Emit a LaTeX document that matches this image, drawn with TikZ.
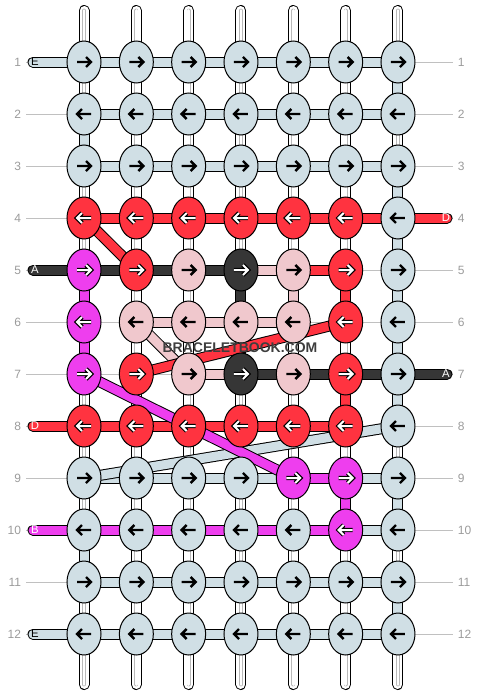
\documentclass[tikz,border=0pt]{standalone}
\usepackage{fontspec}
\setmainfont{Liberation Sans}
\usetikzlibrary{shapes.geometric}

\definecolor{tb}{RGB}{208,223,229}
\definecolor{tr}{RGB}{255,51,64}
\definecolor{tp}{RGB}{240,200,205}
\definecolor{tk}{RGB}{54,54,54}
\definecolor{tm}{RGB}{238,62,238}
\definecolor{guide}{RGB}{192,192,192}
\definecolor{numgray}{RGB}{155,155,155}

\pgfdeclarelayer{back}
\pgfsetlayers{back,main}

\tikzset{
  knot/.style={ellipse, draw, line width=0.75pt, minimum width=25.5pt, minimum height=31.5pt, inner sep=0pt},
  band/.style={draw=black, line width=8.25pt, postaction={draw=#1, line width=6.75pt}},
  warp/.style={band=white, postaction={draw=gray!55, line width=0.4pt, double=white, double distance=2pt}},
  tickdark/.style={draw=black, line width=1.8pt},
  ticklight/.style={draw=white, line width=1.5pt, preaction={draw=black, line width=3.3pt}},
  ab/.style={tickdark}, ap/.style={tickdark},
  ar/.style={ticklight}, ak/.style={ticklight}, am/.style={ticklight},
  rownum/.style={text=numgray, font=\fontsize{9}{10}\selectfont, inner xsep=3.5pt, inner ysep=1pt},
  tag/.style={font=\fontsize{8.5}{9}\selectfont, inner sep=0pt},
  guideline/.style={draw=guide, line width=0.75pt},
  stamp/.style={text={rgb,255:red,62;green,62;blue,62}, font=\fontsize{10.5}{12}\selectfont\bfseries, inner sep=1pt}
}

\begin{document}
\begin{tikzpicture}[x=0.75pt, y=-0.75pt]
  \useasboundingbox (0,0) rectangle (480,696);

  % knots, row by row (1 = right, -1 = left)
  \foreach \r/\d/\row in {
      1/1/{b,b,b,b,b,b,b},
      2/-1/{b,b,b,b,b,b,b},
      3/1/{b,b,b,b,b,b,b},
      4/-1/{r,r,r,r,r,r,b},
      5/1/{m,r,p,k,p,r,b},
      6/-1/{m,p,p,p,p,r,b},
      7/1/{m,r,p,k,p,r,b},
      8/-1/{r,r,r,r,r,r,b},
      9/1/{b,b,b,b,m,m,b},
      10/-1/{b,b,b,b,b,m,b},
      11/1/{b,b,b,b,b,b,b},
      12/-1/{b,b,b,b,b,b,b}}
    \foreach \c [count=\i] in \row {
      \node[knot, fill=t\c] (n\r-\i) at ({84+(\i-1)*52.33}, {62+(\r-1)*52}) {};
      \draw[a\c] (n\r-\i.center) ++({-7*\d},0) -- ++({14*\d},0)
        ++({-5*\d},-5) -- ++({5*\d},5) -- ++({-5*\d},5);
    }

  % row numbers
  \foreach \r in {1,...,12} {
    \node[rownum, anchor=east] (ll\r) at (26, {62+(\r-1)*52}) {\r};
    \node[rownum, anchor=west] (rl\r) at (453, {62+(\r-1)*52}) {\r};
  }

  % loose ends
  \foreach \i in {1,...,7} {
    \coordinate (top\i) at ({84+(\i-1)*52.33}, 10.5);
    \coordinate (bot\i) at ({84+(\i-1)*52.33}, 684.5);
  }
  \foreach \r/\t/\f in {1/E/black, 5/A/white, 8/D/white, 10/B/white, 12/E/black} {
    \coordinate (el\r) at (33, {62+(\r-1)*52});
    \node[tag, text=\f] (te\r) at (35, {62+(\r-1)*52}) {\t};
  }
  \foreach \r/\t in {4/D, 7/A} {
    \coordinate (er\r) at (447, {62+(\r-1)*52});
    \node[tag, text=white] (tr\r) at (446, {62+(\r-1)*52}) {\t};
  }

  \node[stamp] (wm) at (240,347.5) {BRACELETBOOK.COM};

  \begin{pgfonlayer}{back}
    \foreach \r in {1,...,12}
      \draw[guideline] (ll\r) -- (rl\r);

    % warp threads
    \foreach \i in {1,...,7} {
      \draw[warp, line cap=round] (top\i) -- (n1-\i.center);
      \draw[warp, line cap=round] (n12-\i.center) -- (bot\i);
    }
    \foreach \r in {1,...,11}
      \foreach \i in {1,...,7} {
        \pgfmathtruncatemacro\s{\r+1}
        \draw[warp] (n\r-\i.center) -- (n\s-\i.center);
      }

    % threads across the rows
    \foreach \r in {1,2,3,11,12}
      \foreach \i in {1,...,6} {
        \pgfmathtruncatemacro\j{\i+1}
        \draw[band=tb] (n\r-\i.center) -- (n\r-\j.center);
      }
    \foreach \r/\i/\c in {4/1/r,4/2/r,4/3/r,4/4/r,4/5/r,4/6/r,
        5/1/k,5/2/k,5/3/k,5/4/p,5/5/r,
        6/2/p,6/3/p,6/4/p,
        7/3/p,7/4/k,7/5/k,7/6/k,
        8/1/r,8/2/r,8/3/r,8/4/r,8/5/r,
        9/1/b,9/2/b,9/3/b,9/4/b,9/5/m,9/6/b,
        10/1/m,10/2/m,10/3/m,10/4/m,10/5/m,10/6/b} {
      \pgfmathtruncatemacro\j{\i+1}
      \draw[band=t\c] (n\r-\i.center) -- (n\r-\j.center);
    }

    % threads going down
    \foreach \r/\i/\c in {1/7/b,2/1/b,3/7/b,4/7/b,
        5/1/m,5/4/k,5/5/p,5/6/r,5/7/b,
        6/1/m,6/4/k,6/7/b,7/6/r,7/7/b,
        9/6/m,9/7/b,10/1/b,11/7/b} {
      \pgfmathtruncatemacro\s{\r+1}
      \draw[band=t\c] (n\r-\i.center) -- (n\s-\i.center);
    }

    % slanted threads
    \draw[band=tr] (n4-1.center) -- (n5-2.center);
    \draw[band=tp] (n6-2.center) -- (n7-3.center);
    \draw[band=tr] (n6-6.center) -- (n7-2.center);
    \draw[band=tb] (n8-7.center) -- (n9-1.center);
    \draw[band=tm] (n7-1.center) -- (n9-5.center);

    % thread ends
    \foreach \r/\c in {1/b, 5/k, 8/r, 10/m, 12/b}
      \draw[band=t\c, line cap=round] (el\r) -- (n\r-1.center);
    \foreach \r/\c in {4/r, 7/k}
      \draw[band=t\c, line cap=round] (n\r-7.center) -- (er\r);
  \end{pgfonlayer}
\end{tikzpicture}
\end{document}
